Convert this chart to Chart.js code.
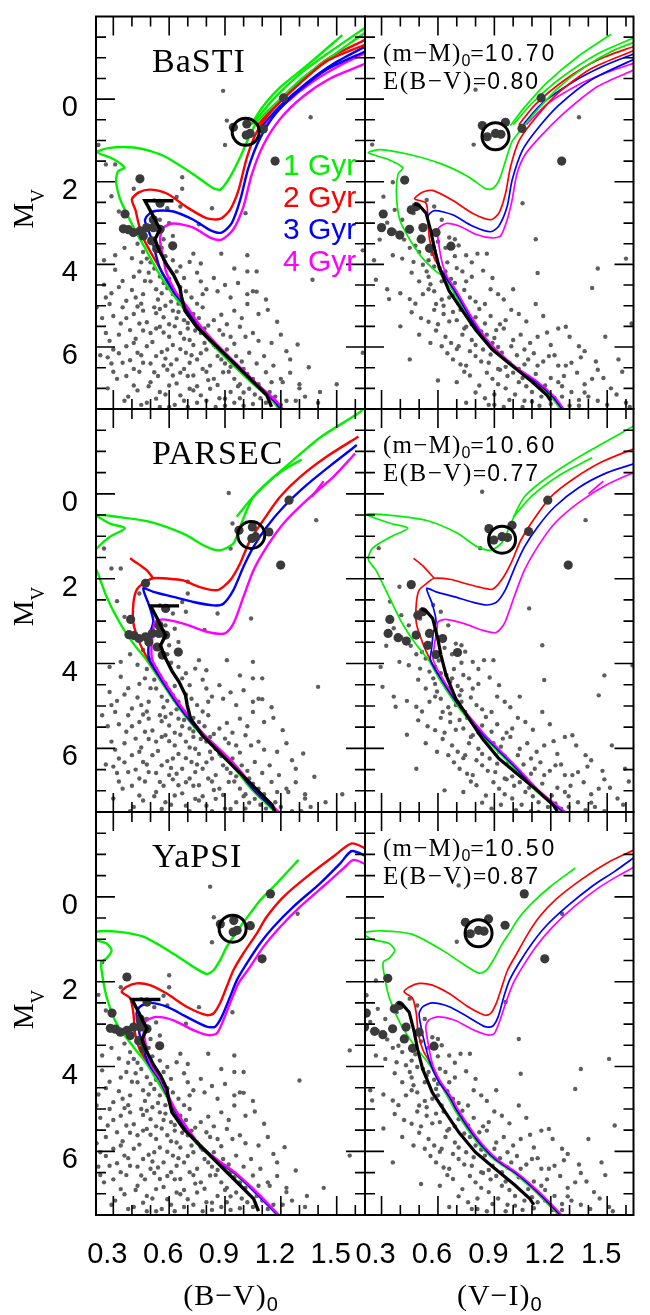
<!DOCTYPE html>
<html>
<head>
<meta charset="utf-8">
<title>Isochrone CMDs</title>
<script src="https://cdn.jsdelivr.net/npm/chart.js@4.4.1/dist/chart.umd.min.js"></script>
<style>
  html, body { margin: 0; padding: 0; background: #fff; }
  #wrap { position: relative; width: 650px; height: 1315px; overflow: hidden; }
  #wrap canvas { position: absolute; left: 0; top: 0; }
</style>
</head>
<body>
<div id="wrap"></div>
<script>
// ---------- labels ----------
const models = ['BaSTI', 'PARSEC', 'YaPSI'];
const distModulus = ['10.70', '10.60', '10.50'];
const reddening = ['0.80', '0.77', '0.87'];
const ages = ['1 Gyr', '2 Gyr', '3 Gyr', '4 Gyr'];
const ageColors = ['#00f000', '#ff0000', '#0000ff', '#ff00ff'];
const xTickLabels = [0.3, 0.6, 0.9, 1.2, 1.5];
const yTickLabels = [0, 2, 4, 6];

// offsets of the observed stars in rows 2 and 3 relative to row 1 (other modulus / reddening)
const rowShiftMV = [0, 0.18, -0.04];
const rowShiftBV = [0, 0.03, -0.07];
const rowShiftVI = [0, 0.035, -0.09];

// ---------- observed stars (row 1 frame) ----------
const bvStars = [
  [0.89,-0.2],[0.91,0.52],[0.90,1.11],[1.36,0.44],[0.22,1.11],[0.26,1.58],[0.31,1.58],
  [0.29,2.35],[0.41,2.17],[0.67,1.89],[0.67,2.17],[0.64,2.37],[0.66,2.6],[0.83,2.64],[1.01,2.76],[0.59,2.64],
  [0.52,2.45],[0.55,2.92],[0.6,3.0],[0.62,3.31],[0.76,3.03],[0.33,2.72],[0.57,3.39],[1.64,3.66],
  [0.25,3.9],[0.31,3.78],[0.31,4.13],[0.25,4.49],[0.73,3.74],[0.71,3.94],[0.77,3.98],[0.88,3.74],[1.02,3.78],
  [1.02,4.17],[1.05,4.65],[1.07,4.66],[1.02,4.72],[0.77,4.41],[0.78,4.72],[1.37,4.37],[0.48,3.86],[0.52,4.1],
  [0.44,4.17],[0.5,4.41],[0.55,4.29],[0.64,4.17],[0.68,4.33],[0.59,4.57],[0.53,4.6],[0.62,4.72],[0.69,4.65],
  [0.72,4.8],[0.46,4.72],[0.26,4.8],[0.37,4.88],[0.42,4.8],[0.86,4.65],[0.93,4.8],[0.84,4.33],[0.95,4.1],[1.07,4.17],
  [0.21,5.04],[0.28,4.96],[0.35,5.04],[0.41,5.2],[0.46,5.12],[0.52,5.04],[0.57,5.28],[0.62,5.12],[0.68,5.35],
  [0.73,5.2],[0.78,5.04],[0.84,5.35],[0.95,5.12],[1.02,4.96],[1.18,5.39],[0.34,5.43],[0.39,5.59],[0.44,5.43],
  [0.5,5.66],[0.55,5.51],[0.6,5.75],[0.66,5.66],[0.71,5.83],[0.77,5.66],[0.82,5.83],[0.87,5.59],[0.93,5.75],
  [0.98,5.51],[1.05,5.66],[0.26,5.66],[0.3,6.06],[0.37,5.98],[0.43,6.14],[0.48,5.98],[0.53,6.22],[0.59,6.06],
  [0.64,6.3],[0.69,6.14],[0.75,6.3],[0.8,6.06],[0.86,6.22],[0.91,6.06],[0.96,6.22],[1.03,6.14],[1.11,6.22],
  [1.29,5.94],[1.64,6.14],[0.35,6.38],[0.41,6.53],[0.46,6.38],[0.52,6.61],[0.57,6.45],[0.62,6.69],[0.68,6.53],
  [0.73,6.69],[0.78,6.53],[0.84,6.77],[0.89,6.61],[0.95,6.77],[1.0,6.53],[1.05,6.77],[1.12,6.61],[1.2,6.77],
  [1.35,6.49],[0.32,6.77],[0.41,6.93],[0.5,6.85],[0.55,7.09],[0.6,6.93],[0.66,7.17],[0.71,7.01],[0.77,7.17],
  [0.82,7.01],[0.87,7.24],[0.93,7.09],[0.98,7.24],[1.03,7.01],[1.09,7.24],[1.14,7.09],[1.21,6.85],[1.41,7.09],
  [0.45,7.4],[0.6,7.45],[0.75,7.35],[0.9,7.42],[1.05,7.38],[1.2,7.4],[1.28,7.3],[1.4,7.35],
  [0.24,5.3],[0.29,6.4],[0.27,7.0],[0.36,7.3],[0.42,5.8],[0.23,6.2],[1.15,5.9],[1.25,6.3],[1.3,7.0],[1.5,6.9],
  [1.13,5.1],[0.97,4.45],[1.12,4.85],[0.43,3.5],[0.46,3.7],[0.5,3.95],[0.56,3.6],[0.58,3.8],[0.4,3.85],[0.36,3.6],
  [0.47,4.4],[0.54,4.85],[0.58,5.0],[0.65,4.95],[0.7,5.1],[0.63,5.5],[0.74,5.6],[0.79,5.9],[0.85,6.0],[0.9,6.4],
  [0.98,6.9],[1.0,7.1],
  [0.33,4.55],[0.4,4.62],[0.45,4.95],[0.56,4.7],[0.61,4.9],[0.66,4.55],[0.75,4.95],[0.8,4.6],[0.9,4.5],[0.29,4.7],
  [0.3,5.25],[0.37,5.3],[0.43,5.02],[0.48,5.4],[0.53,5.18],[0.6,5.45],[0.65,5.15],[0.7,5.42],[0.76,5.3],[0.81,5.48],
  [0.88,5.22],[0.91,5.45],[0.99,5.3],[1.08,5.2],[0.55,5.08],[0.64,5.3],
  [0.28,5.85],[0.33,5.7],[0.41,5.9],[0.46,5.6],[0.51,5.88],[0.57,5.65],[0.62,5.95],[0.68,5.8],[0.73,5.95],[0.79,5.55],
  [0.84,5.95],[0.89,5.7],[0.95,5.92],[1.01,5.75],[1.08,5.85],[1.2,5.7],[0.53,5.55],[0.7,5.55],
  [0.27,6.25],[0.33,6.15],[0.39,6.32],[0.45,6.2],[0.5,6.4],[0.56,6.12],[0.61,6.42],[0.66,6.05],[0.71,6.38],[0.77,6.15],
  [0.82,6.45],[0.88,6.3],[0.93,6.48],[0.99,6.35],[1.07,6.4],[1.16,6.45],[1.23,6.1],[0.72,6.2],[0.58,6.28],
  [0.3,6.6],[0.37,6.7],[0.44,6.6],[0.49,6.95],[0.54,6.7],[0.59,6.55],[0.64,6.88],[0.7,6.7],[0.75,6.95],[0.8,6.6],
  [0.86,6.92],[0.92,6.6],[0.97,6.95],[1.02,6.65],[1.08,6.9],[1.15,6.85],[1.25,6.62],[1.3,6.9],[0.66,6.62],[0.81,6.8],
  [0.38,7.2],[0.43,7.05],[0.48,7.35],[0.53,7.25],[0.58,7.15],[0.63,7.4],[0.68,7.3],[0.73,7.05],[0.8,7.3],[0.85,7.45],
  [0.9,7.25],[0.95,7.35],[1.0,7.42],[1.06,7.15],[1.12,7.35],[1.17,7.2],[1.23,7.3],[1.33,7.2],[0.7,7.45],[0.55,7.45],
  [0.45,3.95],[0.49,4.2],[0.57,4.45],[0.62,3.9],[0.66,4.05],[0.75,4.2],[0.6,4.35],[0.41,4.3],[0.35,4.4]
];
const viStars = [
  [0.80,-0.23],[0.79,1.1],[1.35,0.44],[0.25,1.1],[1.05,2.52],[1.12,3.39],[1.45,4.1],[1.6,3.86],[1.42,4.57],[1.13,4.21],
  [0.36,2.01],[0.31,2.36],[0.37,2.68],[0.33,2.99],[0.41,2.92],[0.47,2.76],[0.54,2.44],[0.58,2.6],[0.62,2.92],
  [0.66,3.35],[0.69,3.39],[0.71,3.54],[0.75,3.78],[0.81,3.74],[0.86,3.74],
  [0.26,3.9],[0.36,3.78],[0.41,3.86],[0.47,3.94],[0.52,4.01],[0.54,4.17],[0.61,4.09],[0.64,4.17],[0.7,4.09],
  [0.73,4.17],[0.5,4.41],[0.56,4.48],[0.62,4.41],[0.68,4.57],[0.75,4.41],[0.89,4.33],[0.27,4.37],[0.34,4.84],
  [0.45,4.84],[0.52,4.72],[0.59,4.96],[0.66,4.8],[0.71,4.96],[0.77,4.8],[0.85,4.96],[0.92,4.72],
  [0.46,5.16],[0.55,5.39],[0.63,5.2],[0.7,5.35],[0.75,5.51],[0.8,5.28],[0.85,5.43],[0.91,5.59],[0.96,5.35],
  [1.03,5.2],[1.12,4.96],[0.56,5.9],[0.64,5.75],[0.71,5.98],[0.78,5.83],[0.84,6.06],[0.89,5.9],[0.94,6.14],
  [1.0,5.83],[1.06,6.06],[1.13,5.75],[1.24,5.55],[1.28,5.51],[1.35,5.98],[1.38,6.1],[1.49,5.75],[1.63,5.43],
  [0.68,6.3],[0.75,6.45],[0.8,6.22],[0.87,6.38],[0.92,6.53],[0.98,6.38],[1.03,6.53],[1.08,6.3],[1.13,6.45],
  [1.19,6.22],[1.24,6.45],[1.31,6.38],[0.6,6.81],[0.77,6.69],[0.82,6.93],[0.89,6.77],[0.96,7.0],[1.03,6.85],
  [1.1,7.09],[1.17,6.93],[1.24,6.85],[1.31,7.09],[1.42,6.77],[1.52,7.0],[0.85,7.24],[0.98,7.28],[1.1,7.32],
  [1.22,7.24],[1.35,7.28],[0.9,7.4],[1.05,7.45],[1.2,7.38],[1.35,7.42],[1.5,7.4],[1.6,7.35],
  [0.42,3.4],[0.48,3.55],[0.57,3.75],[0.6,3.45],[0.65,3.95],[0.67,4.35],[0.58,4.65],[0.63,5.0],[0.68,5.15],
  [0.73,5.7],[0.86,5.7],[0.92,6.0],[0.97,6.7],[1.05,6.75],[1.15,7.2],[1.27,6.7],[1.45,6.55],[1.56,6.3],
  [0.29,3.4],[0.33,4.6],[0.4,5.5],[0.5,5.7],[0.45,6.3],[1.4,7.2],
  [0.58,4.05],[0.63,4.25],[0.69,4.45],[0.78,4.3],[0.84,4.15],[0.55,4.3],[0.46,4.2],
  [0.55,4.6],[0.62,4.85],[0.69,4.72],[0.74,4.62],[0.8,4.9],[0.88,4.6],[0.95,4.85],[1.0,4.6],[0.4,4.7],[0.48,4.95],
  [0.51,5.3],[0.58,5.1],[0.66,5.38],[0.72,5.1],[0.78,5.45],[0.82,5.08],[0.88,5.25],[0.93,5.45],[0.99,5.1],[1.07,5.38],
  [1.16,5.25],[0.6,5.45],
  [0.59,5.6],[0.67,5.9],[0.74,5.55],[0.8,5.95],[0.83,5.62],[0.9,5.78],[0.95,5.55],[0.99,5.98],[1.04,5.7],[1.09,5.9],
  [1.18,5.65],[1.2,5.95],[1.3,5.75],[0.62,5.98],
  [0.65,6.15],[0.72,6.42],[0.77,6.1],[0.83,6.35],[0.88,6.18],[0.96,6.48],[1.02,6.2],[1.06,6.42],[1.11,6.15],[1.16,6.35],
  [1.22,6.2],[1.28,6.45],[1.36,6.25],[1.44,6.35],[0.7,6.05],
  [0.7,6.85],[0.74,6.6],[0.86,6.62],[0.92,6.9],[1.0,6.62],[1.07,6.95],[1.12,6.65],[1.2,6.75],[1.26,6.95],[1.34,6.62],
  [1.38,6.9],[1.48,6.75],[1.58,6.6],[0.93,6.55],
  [0.75,7.35],[0.8,7.1],[0.9,7.15],[0.95,7.45],[1.01,7.15],[1.06,7.3],[1.14,7.42],[1.19,7.12],[1.26,7.2],[1.3,7.42],
  [1.38,7.1],[1.45,7.3],[1.55,7.15],[1.62,7.45],[0.87,7.4],
  [0.37,3.2],[0.5,3.7],[0.55,3.9],[0.64,3.6],[0.69,3.8],[0.78,3.95],[0.45,3.6]
];
// likely members (large dots)
const bvMembers = [
  [0.443,1.93],[0.363,2.78],[0.354,3.14],[0.381,3.16],[0.408,3.23],[0.443,3.19],[0.479,3.11],[0.515,3.11],
  [0.551,3.15],[0.461,3.31],[0.506,3.43],[0.533,3.62],[0.619,3.55],[0.515,2.92],[0.551,2.52],
  [0.945,0.68],[1.017,0.6],[1.035,0.83],[1.014,0.87],[1.106,0.72],[1.214,-0.03],[1.169,1.5]
];
const viMembers = [
  [0.423,1.96],[0.309,2.78],[0.3,3.11],[0.353,3.21],[0.397,3.29],[0.449,3.15],[0.52,3.11],[0.59,3.23],
  [0.511,3.39],[0.555,3.61],[0.669,3.56],[0.458,2.68],[0.485,2.6],
  [0.836,0.64],[0.862,0.91],[0.906,0.83],[0.935,0.85],[0.959,0.56],[1.047,0.71],[1.149,-0.03],[1.258,1.5]
];
// fiducial sequence (black line)
const bvFiducial = [
  [0.623,2.46],[0.47,2.46],[0.506,2.76],[0.533,3.0],[0.551,3.15],[0.524,3.39],[0.542,3.62],[0.587,4.01],
  [0.623,4.25],[0.658,4.57],[0.667,4.8],[0.685,5.12],[0.748,5.51],[0.82,5.83],[0.909,6.22],[1.017,6.69],
  [1.124,7.16],[1.15,7.45]
];
const viFiducial = [
  [0.475,2.53],[0.502,2.58],[0.537,2.76],[0.564,3.23],[0.581,3.62],[0.608,4.09],[0.66,4.65],[0.73,5.12],
  [0.801,5.59],[0.889,6.06],[0.994,6.45],[1.1,6.84],[1.179,7.16],[1.2,7.3]
];
// red clump marker (open circle)
const bvClump = [1.011, 0.79];
const viClump = [0.906, 0.9];

// ---------- isochrones: BaSTI ----------
const bastiBV1 = [[1.19,7.5],[1.15,7.28],[1.04,6.85],[0.93,6.38],[0.825,5.9],[0.735,5.43],[0.66,4.96],[0.6,4.6],[0.53,4.1],[0.47,3.6],[0.42,3.2],[0.37,2.75],[0.335,2.4],[0.315,2.0],[0.325,1.75],[0.36,1.66],[0.3,1.45],[0.215,1.28],[0.28,1.18],[0.41,1.17],[0.5,1.26],[0.59,1.42],[0.73,1.82],[0.835,2.15],[0.875,2.19],[0.925,1.9],[0.98,1.42],[1.026,0.95],[1.071,0.56],[1.178,0.08],[1.30,-0.45],[1.447,-0.95],[1.57,-1.35],[1.66,-1.63]];
const bastiBV2 = [[1.2,7.5],[1.16,7.28],[1.053,6.85],[0.945,6.38],[0.838,5.9],[0.748,5.43],[0.676,4.96],[0.623,4.65],[0.551,4.1],[0.49,3.62],[0.46,3.35],[0.435,3.0],[0.42,2.7],[0.4,2.42],[0.44,2.25],[0.5,2.19],[0.59,2.29],[0.69,2.6],[0.8,2.88],[0.873,2.9],[0.927,2.68],[0.972,2.21],[1.017,1.42],[1.071,0.79],[1.16,0.24],[1.304,-0.39],[1.447,-0.92],[1.66,-1.33]];
const bastiBV3 = [[1.2,7.5],[1.16,7.28],[1.053,6.85],[0.945,6.38],[0.838,5.9],[0.748,5.43],[0.676,4.96],[0.623,4.65],[0.551,4.1],[0.506,3.39],[0.479,3.07],[0.47,2.92],[0.497,2.76],[0.533,2.70],[0.623,2.72],[0.73,2.92],[0.82,3.17],[0.882,3.23],[0.936,3.0],[0.981,2.45],[1.026,1.66],[1.088,0.95],[1.178,0.32],[1.304,-0.23],[1.447,-0.72],[1.66,-1.17]];
const bastiBV4 = [[1.21,7.5],[1.17,7.28],[1.062,6.85],[0.955,6.38],[0.848,5.9],[0.758,5.43],[0.686,4.96],[0.633,4.65],[0.585,4.2],[0.569,3.86],[0.551,3.39],[0.569,3.11],[0.623,3.01],[0.73,3.11],[0.82,3.35],[0.882,3.40],[0.945,3.15],[0.999,2.60],[1.044,1.82],[1.106,1.11],[1.196,0.48],[1.321,-0.07],[1.465,-0.5],[1.66,-0.87]];
const bastiBVextra = [
  [0, [[1.04,0.62],[1.1,0.2],[1.2,-0.3],[1.35,-0.85],[1.53,-1.55]]],
  [0, [[1.05,0.6],[1.16,0.0],[1.3,-0.6],[1.45,-1.1],[1.66,-1.75]]],
  [1, [[1.07,0.66],[1.18,0.1],[1.32,-0.5],[1.46,-1.0],[1.66,-1.45]]],
  [2, [[1.09,0.68],[1.2,0.15],[1.34,-0.4],[1.48,-0.85],[1.66,-1.29]]],
  [3, [[1.1,0.7],[1.22,0.12],[1.38,-0.45],[1.52,-0.82],[1.66,-1.13]]]
];
const bastiVI1 = [[1.25,7.5],[1.2,7.2],[1.1,6.8],[1.0,6.5],[0.91,6.15],[0.83,5.75],[0.75,5.2],[0.68,4.65],[0.63,4.3],[0.59,4.17],[0.52,3.86],[0.449,3.39],[0.397,2.92],[0.379,2.29],[0.388,1.81],[0.414,1.66],[0.33,1.45],[0.23,1.3],[0.291,1.22],[0.449,1.34],[0.625,1.58],[0.766,1.89],[0.854,2.17],[0.889,2.17],[0.924,1.97],[0.959,1.5],[0.994,1.03],[1.047,0.71],[1.117,0.32],[1.24,-0.27],[1.381,-0.78],[1.521,-1.15],[1.65,-1.39]];
const bastiVI2 = [[1.26,7.5],[1.21,7.2],[1.11,6.8],[1.01,6.5],[0.92,6.15],[0.84,5.75],[0.76,5.2],[0.69,4.65],[0.64,4.3],[0.6,4.0],[0.581,3.86],[0.555,3.39],[0.546,2.92],[0.537,2.52],[0.476,2.41],[0.52,2.25],[0.572,2.21],[0.678,2.45],[0.783,2.76],[0.88,2.92],[0.924,2.76],[0.959,2.29],[0.985,1.66],[1.029,1.03],[1.1,0.56],[1.24,-0.15],[1.416,-0.74],[1.65,-1.19]];
const bastiVI3 = [[1.26,7.5],[1.21,7.2],[1.11,6.8],[1.01,6.5],[0.92,6.15],[0.84,5.75],[0.76,5.2],[0.69,4.65],[0.64,4.3],[0.6,4.0],[0.59,3.7],[0.564,3.23],[0.546,2.84],[0.581,2.70],[0.678,2.80],[0.783,3.07],[0.88,3.21],[0.924,3.07],[0.968,2.6],[0.994,1.97],[1.047,1.26],[1.117,0.79],[1.24,0.16],[1.416,-0.47],[1.65,-0.98]];
const bastiVI4 = [[1.27,7.5],[1.22,7.2],[1.12,6.8],[1.02,6.5],[0.93,6.15],[0.85,5.75],[0.77,5.2],[0.7,4.65],[0.65,4.3],[0.625,4.01],[0.608,3.62],[0.599,3.15],[0.643,3.01],[0.713,3.07],[0.8,3.27],[0.889,3.36],[0.933,3.31],[0.968,2.92],[0.994,2.45],[1.02,1.81],[1.064,1.34],[1.152,0.87],[1.275,0.32],[1.451,-0.31],[1.65,-0.72]];
const bastiVIextra = [
  [0, [[0.985,0.64],[1.06,0.2],[1.18,-0.4],[1.35,-1.05],[1.521,-1.57]]],
  [0, [[1.0,0.62],[1.1,0.1],[1.25,-0.5],[1.45,-1.1],[1.65,-1.5]]],
  [1, [[1.03,0.62],[1.12,0.12],[1.28,-0.48],[1.45,-0.95],[1.65,-1.29]]],
  [2, [[1.056,0.6],[1.15,0.12],[1.32,-0.42],[1.48,-0.8],[1.65,-1.11]]],
  [3, [[1.07,0.62],[1.18,0.12],[1.36,-0.38],[1.52,-0.68],[1.65,-0.88]]]
];

// ---------- isochrones: PARSEC ----------
const parsecBV1 = [[1.17,7.5],[1.05,7.0],[0.945,6.44],[0.856,6.04],[0.784,5.73],[0.72,5.42],[0.676,5.18],[0.623,4.86],[0.551,4.39],[0.479,3.92],[0.408,3.53],[0.336,3.05],[0.264,2.43],[0.21,1.80],[0.17,1.55],[0.21,1.29],[0.282,1.01],[0.363,0.81],[0.282,0.70],[0.207,0.5],[0.318,0.54],[0.497,0.66],[0.676,0.94],[0.802,1.25],[0.873,1.33],[0.945,1.17],[0.981,0.78],[1.017,0.38],[1.053,0.07],[1.142,-0.32],[1.268,-0.8],[1.411,-1.33],[1.626,-1.93],[1.65,-2.05]];
const parsecBV2 = [[1.18,7.5],[1.06,7.0],[0.955,6.44],[0.866,6.04],[0.79,5.73],[0.727,5.42],[0.683,5.18],[0.63,4.86],[0.56,4.39],[0.49,3.92],[0.443,3.53],[0.408,3.05],[0.408,2.58],[0.425,2.27],[0.461,2.11],[0.515,1.99],[0.6,2.0],[0.676,2.04],[0.76,2.19],[0.859,2.27],[0.927,2.04],[0.981,1.64],[1.035,1.09],[1.106,0.62],[1.196,0.07],[1.304,-0.4],[1.447,-0.88],[1.617,-1.35]];
const parsecBV3 = [[1.18,7.5],[1.06,7.0],[0.955,6.44],[0.866,6.04],[0.79,5.73],[0.727,5.42],[0.683,5.18],[0.63,4.86],[0.56,4.39],[0.495,3.92],[0.488,3.69],[0.497,3.29],[0.515,3.0],[0.49,2.6],[0.461,2.23],[0.515,2.31],[0.623,2.43],[0.73,2.55],[0.838,2.63],[0.891,2.59],[0.945,2.27],[0.999,1.72],[1.053,1.25],[1.124,0.78],[1.214,0.31],[1.339,-0.21],[1.482,-0.72],[1.608,-1.15]];
const parsecBV4 = [[1.19,7.5],[1.07,7.0],[0.965,6.44],[0.876,6.04],[0.8,5.73],[0.737,5.42],[0.693,5.18],[0.64,4.86],[0.57,4.39],[0.51,3.92],[0.505,3.6],[0.515,3.2],[0.524,3.02],[0.569,2.96],[0.676,3.06],[0.802,3.25],[0.9,3.29],[0.945,3.06],[0.999,2.43],[1.053,1.80],[1.124,1.25],[1.214,0.70],[1.339,0.15],[1.482,-0.40],[1.599,-0.95]];
const parsecBVextra = [
  [1, [[0.515,1.99],[0.479,1.80],[0.443,1.68],[0.39,1.52]]],
  [0, [[0.963,0.54],[1.035,0.15],[1.124,-0.25],[1.214,-0.56],[1.312,-0.81]]],
  [3, [[1.366,0.07],[1.43,-0.3]]]
];
const parsecVI1 = [[1.26,7.5],[1.12,7.0],[1.0,6.44],[0.91,6.04],[0.84,5.73],[0.78,5.42],[0.735,5.18],[0.68,4.86],[0.61,4.39],[0.55,3.92],[0.48,3.53],[0.41,3.05],[0.34,2.43],[0.27,1.8],[0.23,1.55],[0.25,1.29],[0.35,1.01],[0.44,0.81],[0.35,0.7],[0.22,0.48],[0.38,0.52],[0.55,0.64],[0.7,0.92],[0.81,1.25],[0.88,1.33],[0.94,1.15],[0.98,0.78],[1.02,0.38],[1.06,0.07],[1.14,-0.25],[1.27,-0.65],[1.42,-1.05],[1.65,-1.62]];
const parsecVI2 = [[1.27,7.5],[1.13,7.0],[1.01,6.44],[0.92,6.04],[0.85,5.73],[0.79,5.42],[0.745,5.18],[0.69,4.86],[0.62,4.39],[0.56,3.92],[0.52,3.53],[0.485,3.05],[0.485,2.58],[0.5,2.27],[0.54,2.11],[0.58,1.99],[0.67,2.02],[0.75,2.12],[0.84,2.22],[0.89,2.25],[0.94,2.02],[0.99,1.62],[1.04,1.1],[1.11,0.6],[1.2,0.07],[1.32,-0.35],[1.47,-0.75],[1.65,-1.08]];
const parsecVI3 = [[1.27,7.5],[1.13,7.0],[1.01,6.44],[0.92,6.04],[0.85,5.73],[0.79,5.42],[0.745,5.18],[0.69,4.86],[0.62,4.39],[0.56,3.92],[0.565,3.69],[0.575,3.29],[0.59,3.0],[0.57,2.6],[0.54,2.23],[0.59,2.31],[0.69,2.43],[0.79,2.56],[0.86,2.62],[0.91,2.56],[0.96,2.25],[1.01,1.72],[1.06,1.25],[1.13,0.78],[1.22,0.31],[1.35,-0.15],[1.5,-0.5],[1.65,-0.72]];
const parsecVI4 = [[1.28,7.5],[1.14,7.0],[1.02,6.44],[0.93,6.04],[0.86,5.73],[0.8,5.42],[0.755,5.18],[0.7,4.86],[0.63,4.39],[0.575,3.92],[0.58,3.6],[0.595,3.2],[0.6,3.02],[0.64,2.96],[0.74,3.06],[0.84,3.22],[0.91,3.27],[0.955,3.04],[1.005,2.43],[1.06,1.8],[1.13,1.25],[1.22,0.7],[1.35,0.2],[1.5,-0.22],[1.65,-0.52]];
const parsecVIextra = [
  [1, [[0.58,1.99],[0.52,1.7],[0.47,1.52]]],
  [0, [[1.0,0.55],[1.1,0.05],[1.25,-0.45],[1.42,-0.85]]],
  [3, [[1.4,0.0],[1.48,-0.3]]]
];

// ---------- isochrones: YaPSI ----------
const yapsiBV1 = [[1.18,7.5],[1.06,6.96],[0.95,6.52],[0.85,6.2],[0.766,5.9],[0.694,5.5],[0.623,5.03],[0.587,4.71],[0.533,4.32],[0.479,3.93],[0.408,3.54],[0.318,2.99],[0.264,2.36],[0.237,1.73],[0.237,1.53],[0.264,1.45],[0.291,1.26],[0.264,1.1],[0.21,1.02],[0.18,0.9],[0.207,0.82],[0.318,0.82],[0.461,0.94],[0.623,1.34],[0.73,1.65],[0.802,1.82],[0.838,1.73],[0.874,1.49],[0.909,1.18],[0.945,0.94],[0.981,0.71],[1.035,0.39],[1.089,0.08],[1.178,-0.32],[1.295,-0.87]];
const yapsiBV2 = [[1.185,7.5],[1.063,6.96],[0.955,6.52],[0.855,6.2],[0.77,5.9],[0.7,5.5],[0.63,5.03],[0.593,4.71],[0.55,4.32],[0.49,3.93],[0.443,3.61],[0.417,3.22],[0.408,2.75],[0.39,2.39],[0.345,2.24],[0.372,2.12],[0.425,2.04],[0.497,2.08],[0.587,2.28],[0.694,2.59],[0.802,2.79],[0.838,2.75],[0.873,2.51],[0.909,2.12],[0.945,1.73],[0.999,1.33],[1.071,0.86],[1.124,0.47],[1.214,0.0],[1.339,-0.47],[1.482,-0.95],[1.581,-1.26],[1.665,-1.12]];
const yapsiBV3 = [[1.185,7.5],[1.063,6.96],[0.955,6.52],[0.855,6.2],[0.77,5.9],[0.7,5.5],[0.63,5.03],[0.593,4.71],[0.55,4.32],[0.49,3.93],[0.452,3.46],[0.434,3.06],[0.425,2.75],[0.443,2.59],[0.497,2.5],[0.587,2.59],[0.694,2.83],[0.802,3.06],[0.847,3.06],[0.882,2.83],[0.927,2.36],[0.963,1.97],[1.017,1.57],[1.088,1.1],[1.16,0.71],[1.268,0.23],[1.411,-0.32],[1.519,-0.79],[1.581,-1.08],[1.665,-0.95]];
const yapsiBV4 = [[1.19,7.5],[1.07,6.96],[0.96,6.52],[0.86,6.2],[0.775,5.9],[0.705,5.5],[0.635,5.03],[0.598,4.71],[0.555,4.32],[0.5,3.93],[0.47,3.38],[0.461,3.06],[0.479,2.91],[0.533,2.83],[0.623,2.91],[0.73,3.14],[0.81,3.26],[0.856,3.22],[0.891,2.91],[0.927,2.51],[0.972,2.04],[1.035,1.65],[1.106,1.18],[1.196,0.71],[1.304,0.23],[1.447,-0.32],[1.536,-0.67],[1.59,-0.87],[1.665,-0.75]];
const yapsiBVextra = [];
const yapsiVI1 = [[1.24,7.5],[1.12,6.96],[1.0,6.5],[0.9,6.2],[0.83,5.9],[0.76,5.5],[0.69,5.03],[0.65,4.71],[0.6,4.32],[0.55,3.93],[0.48,3.54],[0.4,2.99],[0.34,2.36],[0.31,1.73],[0.31,1.53],[0.34,1.45],[0.37,1.26],[0.34,1.1],[0.25,1.0],[0.2,0.85],[0.3,0.8],[0.46,0.88],[0.62,1.25],[0.74,1.6],[0.82,1.8],[0.86,1.72],[0.9,1.45],[0.94,1.12],[0.98,0.85],[1.03,0.5],[1.1,0.15],[1.2,-0.25],[1.33,-0.68]];
const yapsiVI2 = [[1.25,7.5],[1.13,6.96],[1.01,6.5],[0.91,6.2],[0.84,5.9],[0.77,5.5],[0.7,5.03],[0.66,4.71],[0.6,4.32],[0.56,3.93],[0.52,3.61],[0.495,3.22],[0.485,2.75],[0.465,2.39],[0.42,2.24],[0.45,2.12],[0.5,2.04],[0.57,2.08],[0.66,2.28],[0.76,2.59],[0.85,2.79],[0.88,2.75],[0.91,2.51],[0.94,2.12],[0.97,1.73],[1.02,1.33],[1.08,0.86],[1.14,0.47],[1.23,0.05],[1.36,-0.4],[1.5,-0.8],[1.65,-1.12]];
const yapsiVI3 = [[1.25,7.5],[1.13,6.96],[1.01,6.5],[0.91,6.2],[0.84,5.9],[0.77,5.5],[0.7,5.03],[0.66,4.71],[0.6,4.32],[0.56,3.93],[0.53,3.46],[0.51,3.06],[0.5,2.75],[0.52,2.59],[0.57,2.5],[0.66,2.59],[0.76,2.83],[0.85,3.06],[0.89,3.05],[0.92,2.83],[0.95,2.36],[0.98,1.97],[1.03,1.57],[1.1,1.1],[1.17,0.71],[1.28,0.25],[1.42,-0.25],[1.54,-0.6],[1.65,-0.95]];
const yapsiVI4 = [[1.26,7.5],[1.14,6.96],[1.02,6.5],[0.92,6.2],[0.85,5.9],[0.78,5.5],[0.71,5.03],[0.67,4.71],[0.61,4.32],[0.57,3.93],[0.545,3.38],[0.535,3.06],[0.55,2.91],[0.6,2.83],[0.69,2.91],[0.79,3.14],[0.87,3.26],[0.9,3.22],[0.93,2.91],[0.96,2.51],[1.0,2.04],[1.05,1.65],[1.12,1.18],[1.21,0.71],[1.32,0.25],[1.45,-0.2],[1.56,-0.5],[1.65,-0.72]];
const yapsiVIextra = [];

// ---------- layout ----------
const W = 650, H = 1315;
const colEdges = [[96, 365], [365, 636]];
const rowEdges = [[5, 409], [409, 812], [812, 1215]];
const xRanges = [[0.207, 1.652], [0.212, 1.640]];
const yRange = [-2, 7.5];

const isoSets = [
  [[bastiBV1, bastiBV2, bastiBV3, bastiBV4], [bastiVI1, bastiVI2, bastiVI3, bastiVI4]],
  [[parsecBV1, parsecBV2, parsecBV3, parsecBV4], [parsecVI1, parsecVI2, parsecVI3, parsecVI4]],
  [[yapsiBV1, yapsiBV2, yapsiBV3, yapsiBV4], [yapsiVI1, yapsiVI2, yapsiVI3, yapsiVI4]]
];
const extraSets = [
  [bastiBVextra, bastiVIextra],
  [parsecBVextra, parsecVIextra],
  [yapsiBVextra, yapsiVIextra]
];

const SERIF = '"Liberation Serif", "Times New Roman", serif';
const SANS = '"Liberation Sans", Arial, sans-serif';

function pts(arr, dx, dy) {
  return arr.map(([a, b]) => ({ x: a + (dx || 0), y: b + (dy || 0) }));
}

// draws a run of text pieces with their own font / vertical offset
function rich(ctx, x, y, parts) {
  for (const p of parts) {
    ctx.font = p.f;
    ctx.letterSpacing = (p.ls || 0) + 'px';
    ctx.fillText(p.t, x, y + (p.dy || 0));
    x += ctx.measureText(p.t).width;
  }
  ctx.letterSpacing = '0px';
}
function richWidth(ctx, parts) {
  let w = 0;
  for (const p of parts) {
    ctx.font = p.f;
    ctx.letterSpacing = (p.ls || 0) + 'px';
    w += ctx.measureText(p.t).width;
  }
  ctx.letterSpacing = '0px';
  return w;
}

const panelDecor = {
  id: 'panelDecor',
  afterDraw(chart, args, o) {
    const { ctx, chartArea: a } = chart;
    const x = chart.scales.x, y = chart.scales.y;
    const row = o.row, col = o.col;
    ctx.save();
    ctx.strokeStyle = '#000';
    ctx.lineWidth = 1.6;
    ctx.beginPath();
    // inward ticks, x every 0.1 (long at 0.3 steps)
    for (let i = 1; i <= 17; i++) {
      const v = i / 10;
      if (v <= x.min + 0.005 || v >= x.max - 0.005) continue;
      const px = x.getPixelForValue(v);
      const len = i % 3 === 0 ? 19 : 10;
      ctx.moveTo(px, a.bottom); ctx.lineTo(px, a.bottom - len);
      ctx.moveTo(px, a.top); ctx.lineTo(px, a.top + len);
    }
    // inward ticks, y every 0.5 (long at 0,2,4,6)
    for (let i = -4; i <= 15; i++) {
      const v = i / 2;
      if (v <= y.min + 0.01 || v >= y.max - 0.01) continue;
      const py = y.getPixelForValue(v);
      const len = i % 4 === 0 ? 19 : 10;
      ctx.moveTo(a.left, py); ctx.lineTo(a.left + len, py);
      ctx.moveTo(a.right, py); ctx.lineTo(a.right - len, py);
    }
    ctx.stroke();
    ctx.lineWidth = 2;
    ctx.strokeRect(a.left, a.top, a.right - a.left, a.bottom - a.top);

    ctx.fillStyle = '#000';
    // y tick labels + M_V title on the left column
    if (col === 0) {
      ctx.font = '29px ' + SANS;
      ctx.textAlign = 'right';
      ctx.textBaseline = 'alphabetic';
      for (const v of yTickLabels) {
        ctx.fillText(String(v), 78, y.getPixelForValue(v) + 17);
      }
      const parts = [{ t: 'M', f: '29px ' + SERIF }, { t: 'V', f: '19px ' + SERIF, dy: 11 }];
      ctx.textAlign = 'left';
      const w = richWidth(ctx, parts);
      ctx.save();
      ctx.translate(33, (a.top + a.bottom) / 2 - 4);
      ctx.rotate(-Math.PI / 2);
      rich(ctx, -w / 2, 0, parts);
      ctx.restore();
    }
    // x tick labels + colour title on the bottom row
    if (row === 2) {
      ctx.font = '29px ' + SANS;
      ctx.textAlign = 'center';
      ctx.textBaseline = 'alphabetic';
      for (const v of xTickLabels) {
        ctx.fillText(v.toFixed(1), x.getPixelForValue(v) - 6, 1263);
      }
      const parts = col === 0
        ? [{ t: '(B\u2212V)', f: '30px ' + SERIF, ls: 1 }, { t: '0', f: '20px ' + SANS, dy: 6 }]
        : [{ t: '(V\u2212I)', f: '30px ' + SERIF, ls: 1 }, { t: '0', f: '20px ' + SANS, dy: 6 }];
      ctx.textAlign = 'left';
      const w = richWidth(ctx, parts);
      rich(ctx, (a.left + a.right) / 2 - w / 2, 1305, parts);
    }
    // model name
    ctx.textAlign = 'left';
    ctx.textBaseline = 'alphabetic';
    if (col === 0) {
      ctx.font = '34px ' + SERIF;
      ctx.letterSpacing = '1px';
      ctx.fillText(models[row], 152, a.top + 55);
      ctx.letterSpacing = '0px';
    }
    // age legend in the first panel
    if (row === 0 && col === 0) {
      ctx.font = '30px ' + SANS;
      ages.forEach((t, i) => {
        ctx.fillStyle = ageColors[i];
        ctx.fillText(t, 283, 175 + i * 32);
      });
      ctx.fillStyle = '#000';
    }
    // distance modulus and reddening on the right column
    if (col === 1) {
      rich(ctx, 383, a.top + 44, [
        { t: '(m\u2212M)', f: '25px ' + SERIF, ls: 1.2 },
        { t: '0', f: '16px ' + SANS, dy: 5 },
        { t: '=', f: '24px ' + SERIF, ls: 1 },
        { t: distModulus[row], f: '23px ' + SANS, ls: 3 }
      ]);
      rich(ctx, 383, a.top + 72, [
        { t: 'E(B\u2212V)', f: '25px ' + SERIF, ls: 1.5 },
        { t: '=', f: '24px ' + SERIF, ls: 1 },
        { t: reddening[row], f: '23px ' + SANS, ls: 2 }
      ]);
    }
    ctx.restore();
  }
};

const wrap = document.getElementById('wrap');

for (let row = 0; row < 3; row++) {
  for (let col = 0; col < 2; col++) {
    const [L, R] = colEdges[col];
    const [T, B] = rowEdges[row];
    const dx = col === 0 ? rowShiftBV[row] : rowShiftVI[row];
    const dy = rowShiftMV[row];
    const stars = col === 0 ? bvStars : viStars;
    const members = col === 0 ? bvMembers : viMembers;
    const fid = col === 0 ? bvFiducial : viFiducial;
    const clump = col === 0 ? bvClump : viClump;
    const lw = col === 0 ? 2.4 : 1.7;

    const datasets = [];
    datasets.push({
      data: pts([clump], dx, dy), pointRadius: 13.5, pointBorderWidth: 3,
      pointBorderColor: '#000', pointBackgroundColor: 'rgba(0,0,0,0)', order: 0, clip: 0
    });
    datasets.push({
      data: pts(fid, dx, dy), showLine: true, borderColor: '#000', borderWidth: col === 0 ? 3.4 : 3.2,
      pointRadius: 0, tension: 0, order: 1, clip: 0
    });
    datasets.push({
      data: pts(members, dx, dy), pointRadius: 4.6, pointBackgroundColor: '#3a3a3a',
      pointBorderWidth: 0, order: 2, clip: 0
    });
    isoSets[row][col].forEach((iso, i) => {
      datasets.push({
        data: pts(iso), showLine: true, borderColor: ageColors[i], borderWidth: lw,
        pointRadius: 0, tension: 0.25, order: 3 + (3 - i) * 0.1, clip: 0
      });
    });
    extraSets[row][col].forEach(([ci, seg]) => {
      datasets.push({
        data: pts(seg), showLine: true, borderColor: ageColors[ci], borderWidth: lw,
        pointRadius: 0, tension: 0.25, order: 3.5, clip: 0
      });
    });
    datasets.push({
      data: pts(stars, dx, dy), pointRadius: 2.2, pointBackgroundColor: '#5e5e5e',
      pointBorderWidth: 0, order: 5, clip: 0
    });

    const cv = document.createElement('canvas');
    cv.width = W; cv.height = H;
    cv.style.width = W + 'px'; cv.style.height = H + 'px';
    wrap.appendChild(cv);

    new Chart(cv, {
      type: 'scatter',
      data: { datasets },
      options: {
        responsive: false,
        animation: false,
        devicePixelRatio: 1,
        events: [],
        layout: { padding: { left: L, right: W - R, top: T, bottom: H - B } },
        plugins: {
          legend: { display: false },
          tooltip: { enabled: false },
          panelDecor: { row, col }
        },
        scales: {
          x: { type: 'linear', display: false, min: xRanges[col][0], max: xRanges[col][1] },
          y: { type: 'linear', display: false, reverse: true, min: yRange[0], max: yRange[1] }
        }
      },
      plugins: [panelDecor]
    });
  }
}
</script>
</body>
</html>
